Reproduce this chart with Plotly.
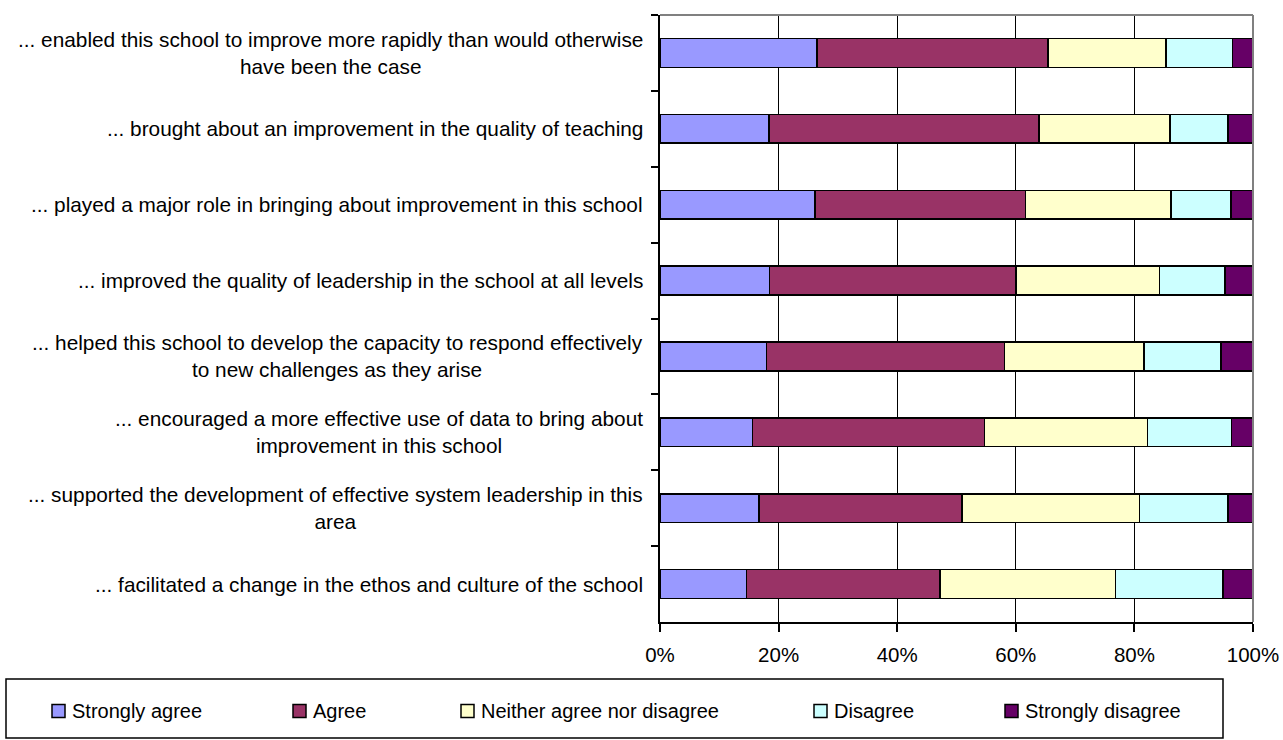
import plotly.graph_objects as go

# Survey statements (top to bottom)
statements = [
    "... enabled this school to improve more rapidly than would otherwise<br>have been the case",
    "... brought about an improvement in the quality of teaching",
    "... played a major role in bringing about improvement in this school",
    "... improved the quality of leadership in the school at all levels",
    "... helped this school to develop the capacity to respond effectively<br>to new challenges as they arise",
    "... encouraged a more effective use of data to bring about<br>improvement in this school",
    "... supported the development of effective system leadership in this<br>area",
    "... facilitated a change in the ethos and culture of the school",
]

# Percentage of responses per answer
strongly_agree = [26.5, 18.4, 26.1, 18.5, 18.0, 15.6, 16.7, 14.6]
agree = [38.9, 45.5, 35.5, 41.5, 40.1, 39.1, 34.2, 32.6]
neither = [19.9, 22.1, 24.6, 24.2, 23.5, 27.5, 30.0, 29.6]
disagree = [11.2, 9.8, 10.1, 11.1, 13.0, 14.2, 14.9, 18.1]
strongly_disagree = [3.5, 4.2, 3.7, 4.7, 5.4, 3.6, 4.2, 5.1]

series_names = ["Strongly agree", "Agree", "Neither agree nor disagree",
                "Disagree", "Strongly disagree"]
series_values = [strongly_agree, agree, neither, disagree, strongly_disagree]
series_colors = ["#9999FF", "#993366", "#FFFFCC", "#CCFFFF", "#660066"]

x_ticks = [0, 20, 40, 60, 80, 100]

# Page geometry (pixels)
W, H = 1283, 740
PL, PR, PT, PB = 660, 1253, 15, 622
FONT = "Liberation Sans, Arial, sans-serif"
LABEL_SIZE = 20.8


def px_x(p):
    return (p - PL) / (PR - PL)


def px_y(p):
    return (PB - p) / (PB - PT)


fig = go.Figure()
for name, vals, col in zip(series_names, series_values, series_colors):
    fig.add_trace(go.Bar(
        y=statements, x=vals, name=name, orientation="h",
        marker=dict(color=col, line=dict(color="black", width=1.5)),
        showlegend=False,
    ))

# Statement labels to the left of the bars, wrapped lines centred
annotations = []
for s in statements:
    annotations.append(dict(
        x=px_x(645), xref="paper", y=s, yref="y",
        xanchor="right", yanchor="middle", align="center",
        text=s, showarrow=False,
        font=dict(family=FONT, size=LABEL_SIZE, color="black"),
    ))

shapes = [
    # grey frame on top and right of the plot area
    dict(type="line", xref="paper", yref="paper", x0=0, x1=1, y0=1, y1=1,
         line=dict(color="#808080", width=2)),
    dict(type="line", xref="paper", yref="paper", x0=1, x1=1, y0=0, y1=1,
         line=dict(color="#808080", width=2)),
    # legend box
    dict(type="rect", xref="paper", yref="paper",
         x0=px_x(6), x1=px_x(1223), y0=px_y(679), y1=px_y(738),
         line=dict(color="black", width=1.5), fillcolor="white"),
]

# Legend entries
legend_x = [52, 293, 461, 814, 1005]
ly = 711
for name, col, lx in zip(series_names, series_colors, legend_x):
    shapes.append(dict(
        type="rect", xref="paper", yref="paper",
        x0=px_x(lx), x1=px_x(lx + 13), y0=px_y(ly - 6.5), y1=px_y(ly + 6.5),
        fillcolor=col, line=dict(color="black", width=1.5),
    ))
    annotations.append(dict(
        x=px_x(lx + 18), xref="paper", y=px_y(ly - 0.5), yref="paper",
        xanchor="left", yanchor="middle", text=name, showarrow=False,
        font=dict(family=FONT, size=20, color="black"),
    ))

fig.update_layout(
    width=W, height=H,
    margin=dict(l=PL, r=W - PR, t=PT, b=H - PB, pad=0, autoexpand=False),
    barmode="stack", bargap=0.62,
    plot_bgcolor="white", paper_bgcolor="white",
    font=dict(family=FONT, size=20, color="black"),
    xaxis=dict(
        range=[0, 100], tickvals=x_ticks,
        ticktext=[f"{v}%" for v in x_ticks],
        showgrid=True, gridcolor="black", gridwidth=1,
        showline=True, linecolor="black", linewidth=2,
        ticks="outside", ticklen=8, tickwidth=2, tickcolor="black",
        ticklabelstandoff=5, zeroline=False, automargin=False,
        tickfont=dict(family=FONT, size=20.5, color="black"),
        fixedrange=True,
    ),
    yaxis=dict(
        categoryorder="array", categoryarray=statements,
        autorange="reversed", showticklabels=False, automargin=False,
        showline=True, linecolor="black", linewidth=2,
        ticks="outside", tickson="boundaries", ticklen=7, tickwidth=2,
        tickcolor="black", showgrid=False, fixedrange=True,
    ),
    shapes=shapes, annotations=annotations,
)

fig.write_html("out.html")
